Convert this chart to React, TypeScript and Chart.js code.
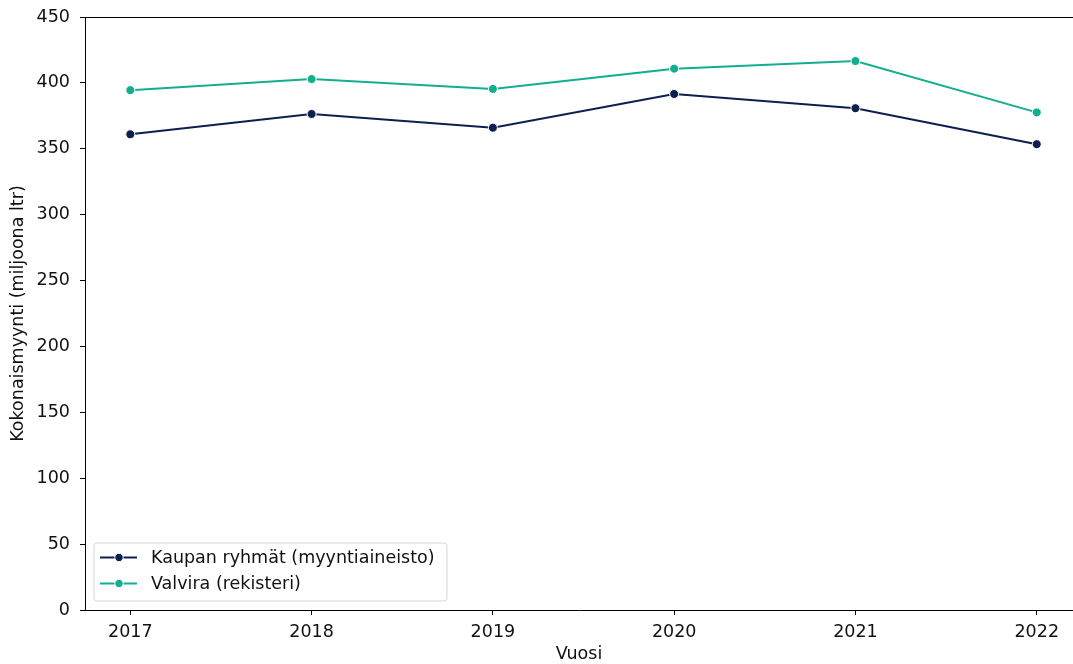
import React, { useEffect, useRef } from "react";
import { Chart, registerables } from "chart.js";

Chart.register(...registerables);

const years = [2017, 2018, 2019, 2020, 2021, 2022];
const kaupanValues = [361.0, 376.4, 366.0, 391.6, 380.8, 353.5];
const valviraValues = [394.5, 402.9, 395.4, 410.8, 416.6, 377.6];
const yTicks = [0, 50, 100, 150, 200, 250, 300, 350, 400, 450];
const seriesLabels = ["Kaupan ryhmät (myyntiaineisto)", "Valvira (rekisteri)"];
const seriesColors = ["#0c1f4f", "#13ae8d"];
const xTitle = "Vuosi";
const yTitle = "Kokonaismyynti (miljoona ltr)";

const FONT = "'DejaVu Sans', sans-serif";
const TEXT = "#111111";
const FS = 17.5;

const legendPlugin = {
  id: "innerLegend",
  afterDraw(chart: any) {
    const ctx = chart.ctx;
    const area = chart.chartArea;
    const x0 = area.left + 9;
    const y1 = area.bottom - 9;
    const w = 353;
    const h = 58;
    const y0 = y1 - h;
    ctx.save();
    ctx.beginPath();
    const r = 3;
    ctx.moveTo(x0 + r, y0);
    ctx.lineTo(x0 + w - r, y0);
    ctx.quadraticCurveTo(x0 + w, y0, x0 + w, y0 + r);
    ctx.lineTo(x0 + w, y1 - r);
    ctx.quadraticCurveTo(x0 + w, y1, x0 + w - r, y1);
    ctx.lineTo(x0 + r, y1);
    ctx.quadraticCurveTo(x0, y1, x0, y1 - r);
    ctx.lineTo(x0, y0 + r);
    ctx.quadraticCurveTo(x0, y0, x0 + r, y0);
    ctx.closePath();
    ctx.fillStyle = "rgba(255,255,255,0.8)";
    ctx.fill();
    ctx.strokeStyle = "#d6d6d6";
    ctx.lineWidth = 1;
    ctx.stroke();
    chart.data.datasets.forEach((ds: any, i: number) => {
      const cy = y0 + 14.5 + i * 26;
      ctx.strokeStyle = ds.borderColor;
      ctx.lineWidth = 2;
      ctx.beginPath();
      ctx.moveTo(x0 + 6, cy);
      ctx.lineTo(x0 + 43, cy);
      ctx.stroke();
      ctx.beginPath();
      ctx.arc(x0 + 25, cy, 4.2, 0, Math.PI * 2);
      ctx.fillStyle = ds.borderColor;
      ctx.fill();
      ctx.strokeStyle = "#ffffff";
      ctx.lineWidth = 1;
      ctx.stroke();
      ctx.fillStyle = TEXT;
      ctx.font = `${FS}px ${FONT}`;
      ctx.textBaseline = "middle";
      ctx.textAlign = "left";
      ctx.fillText(ds.label, x0 + 57, cy + 1);
    });
    ctx.restore();
  },
};

const topBorderPlugin = {
  id: "topBorder",
  afterDatasetsDraw(chart: any) {
    const ctx = chart.ctx;
    const a = chart.chartArea;
    ctx.save();
    ctx.strokeStyle = "#000";
    ctx.lineWidth = 1;
    ctx.beginPath();
    ctx.moveTo(a.left, a.top + 0.5);
    ctx.lineTo(a.right, a.top + 0.5);
    ctx.stroke();
    ctx.restore();
  },
};

export default function App() {
  const ref = useRef<HTMLCanvasElement | null>(null);
  useEffect(() => {
    if (!ref.current) return;
    Chart.defaults.font.family = FONT;
    const mk = (vals: number[]) => years.map((y, i) => ({ x: y, y: vals[i] }));
    const chart = new Chart(ref.current, {
      type: "line",
      data: {
        datasets: [
          {
            label: seriesLabels[0],
            data: mk(kaupanValues),
            borderColor: seriesColors[0],
            backgroundColor: seriesColors[0],
            pointBackgroundColor: seriesColors[0],
            pointBorderColor: "#ffffff",
            pointBorderWidth: 1,
            pointRadius: 4.5,
            borderWidth: 2,
            tension: 0,
          },
          {
            label: seriesLabels[1],
            data: mk(valviraValues),
            borderColor: seriesColors[1],
            backgroundColor: seriesColors[1],
            pointBackgroundColor: seriesColors[1],
            pointBorderColor: "#ffffff",
            pointBorderWidth: 1,
            pointRadius: 4.5,
            borderWidth: 2,
            tension: 0,
          },
        ],
      },
      options: {
        animation: false,
        responsive: false,
        layout: { autoPadding: false, padding: { left: 0, top: 17, right: 0, bottom: 0 } },
        plugins: {
          legend: { display: false },
          tooltip: { enabled: false },
        },
        scales: {
          x: {
            type: "linear",
            min: 2016.75,
            max: 2022.2,
            afterBuildTicks: (scale: any) => {
              scale.ticks = years.map((v) => ({ value: v }));
            },
            afterFit: (scale: any) => {
              scale.height = 54;
              scale.paddingRight = 0;
              scale.paddingLeft = 0;
            },
            grid: {
              drawOnChartArea: false,
              drawTicks: true,
              tickLength: 5,
              color: "#000",
              tickColor: "#000",
            },
            border: { display: true, color: "#000", width: 1 },
            ticks: {
              color: TEXT,
              font: { size: FS, family: FONT },
              padding: 7,
              maxRotation: 0,
              autoSkip: false,
              callback: (v: any) => String(v),
            },
            title: {
              display: true,
              text: xTitle,
              color: TEXT,
              font: { size: FS, family: FONT },
              padding: { top: 0, bottom: -1 },
            },
          },
          y: {
            type: "linear",
            min: 0,
            max: 450,
            afterBuildTicks: (scale: any) => {
              scale.ticks = yTicks.map((v) => ({ value: v }));
            },
            afterFit: (scale: any) => {
              scale.width = 85;
              scale.paddingTop = 0;
              scale.paddingBottom = 0;
            },
            grid: {
              drawOnChartArea: false,
              drawTicks: true,
              tickLength: 5,
              color: "#000",
              tickColor: "#000",
            },
            border: { display: true, color: "#000", width: 1 },
            ticks: {
              color: TEXT,
              font: { size: FS, family: FONT },
              padding: 10,
              callback: (v: any) => String(v),
            },
            title: {
              display: true,
              text: yTitle,
              color: TEXT,
              font: { size: FS, family: FONT },
              padding: { top: 8, bottom: 0 },
            },
          },
        },
      },
      plugins: [topBorderPlugin, legendPlugin],
    } as any);
    return () => chart.destroy();
  }, []);
  return (
    <div style={{ position: "fixed", left: 0, top: 0, width: 1073, height: 664, background: "#fff" }}>
      <canvas ref={ref} width={1073} height={664} style={{ width: 1073, height: 664, display: "block" }} />
    </div>
  );
}
